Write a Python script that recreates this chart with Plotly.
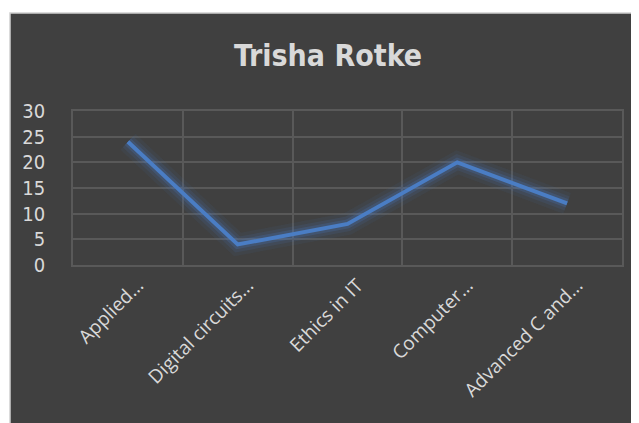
import plotly.graph_objects as go

categories = ["Applied...", "Digital circuits...", "Ethics in IT", "Computer...", "Advanced C and..."]
values = [24, 4, 8, 20, 12]
y_ticks = [0, 5, 10, 15, 20, 25, 30]
title_text = "Trisha Rotke"

W, H = 639, 423
OFF = 8  # page body margin
L, T = 73 - OFF, 111 - OFF
R = W - (622 - OFF)
B = H - (265 - OFF)
pw = W - L - R
ph = H - T - B

grid = "#595959"

fig = go.Figure()
# glow layers
for w, a in [(22, 0.07), (15, 0.12), (9, 0.22)]:
    fig.add_trace(go.Scatter(x=categories, y=values, mode="lines",
                             line=dict(color=f"rgba(74,125,196,{a})", width=w),
                             hoverinfo="skip", showlegend=False))
fig.add_trace(go.Scatter(x=categories, y=values, mode="lines",
                         line=dict(color="#4a7dc4", width=4), showlegend=False))

# dark panel (screen px 10..right, 13..bottom)
fig.add_shape(type="rect", xref="paper", yref="paper",
              x0=(10 - OFF - L) / pw, x1=(W + 10 - L) / pw,
              y0=(H - B - (H + 10)) / ph, y1=(H - B - (13 - OFF)) / ph,
              fillcolor="#404040", line=dict(color="#d0d0d0", width=1.5), layer="below")

fig.update_layout(
    width=W, height=H,
    margin=dict(l=L, r=R, t=T, b=B),
    paper_bgcolor="white", plot_bgcolor="rgba(0,0,0,0)",
    title=dict(text="<b>" + title_text + "</b>", x=(328 - OFF) / W, xanchor="center", xref="container",
               y=1 - (55 - OFF) / H, yanchor="middle",
               font=dict(family="DejaVu Sans Condensed", size=30, color="#d9d9d9")),
    xaxis=dict(type="category", range=[-0.5, 4.5], tickson="boundaries",
               showgrid=True, gridcolor=grid, gridwidth=1.5,
               showline=True, mirror=True, linecolor=grid, linewidth=1.5,
               tickangle=-45, ticks="", zeroline=False, ticklabelshift=10,
               tickfont=dict(family="Open Sans", size=19, color="#d9d9d9")),
    yaxis=dict(range=[0, 30], tickvals=y_ticks, showgrid=True, gridcolor=grid, gridwidth=1.5,
               showline=True, mirror=True, linecolor=grid, linewidth=1.5,
               zeroline=False, ticks="", ticklabelstandoff=22,
               tickfont=dict(family="DejaVu Sans Condensed", size=20, color="#d9d9d9")),
)

fig.write_html("out.html")
